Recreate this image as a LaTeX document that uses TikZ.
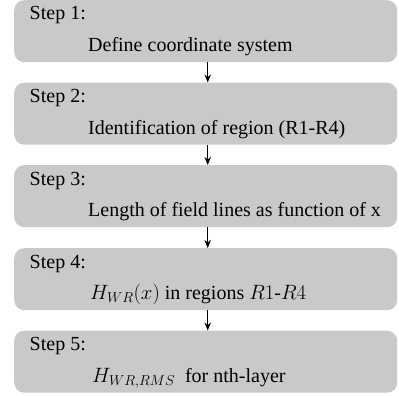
\documentclass[tikz,border=0pt]{standalone}
\usepackage{fontspec}
\setmainfont{Liberation Serif}
\usetikzlibrary{arrows.meta}
\begin{document}
\begin{tikzpicture}[x=1pt,y=-1pt,
  stepbox/.style={fill=black!21, draw=none, rounded corners=10pt, minimum width=383pt, minimum height=62pt, inner sep=0pt, anchor=north west},
  steptitle/.style={anchor=base west, inner sep=0pt, font=\fontsize{20}{24}\selectfont},
  steptext/.style={anchor=base west, inner sep=0pt, font=\fontsize{20}{24}\selectfont},
  flow/.style={-{Stealth[length=8pt,width=6.5pt]}, line width=0.9pt}]
\useasboundingbox (0,0) rectangle (399,396);
\foreach \i/\t in {1/0,2/82.5,3/165,4/248,5/330.5}{
  \node[stepbox] (b\i) at (14,\t) {};
  \node[steptitle] (s\i) at ([xshift=15.5pt,yshift=-20pt]b\i.north west) {Step \i:};
}
\node[steptext] (t1) at ([xshift=74pt,yshift=-51.5pt]b1.north west) {Define coordinate system};
\node[steptext] (t2) at ([xshift=74pt,yshift=-51.5pt]b2.north west) {Identification of region (R1-R4)};
\node[steptext] (t3) at ([xshift=74pt,yshift=-51.5pt]b3.north west) {Length of field lines as function of x};
\node[steptext] (t4) at ([xshift=76pt,yshift=-51.5pt]b4.north west) {$H_{WR}(x)$ in regions $R1$-$R4$};
\node[steptext] (t5) at ([xshift=78pt,yshift=-51.5pt]b5.north west) {$H_{WR,RMS}$\ \ for nth-layer};
\foreach \a/\b in {1/2,2/3,3/4,4/5}{
  \draw[flow] ([xshift=2pt]b\a.south) -- ([xshift=2pt]b\b.north);
}
\end{tikzpicture}
\end{document}
